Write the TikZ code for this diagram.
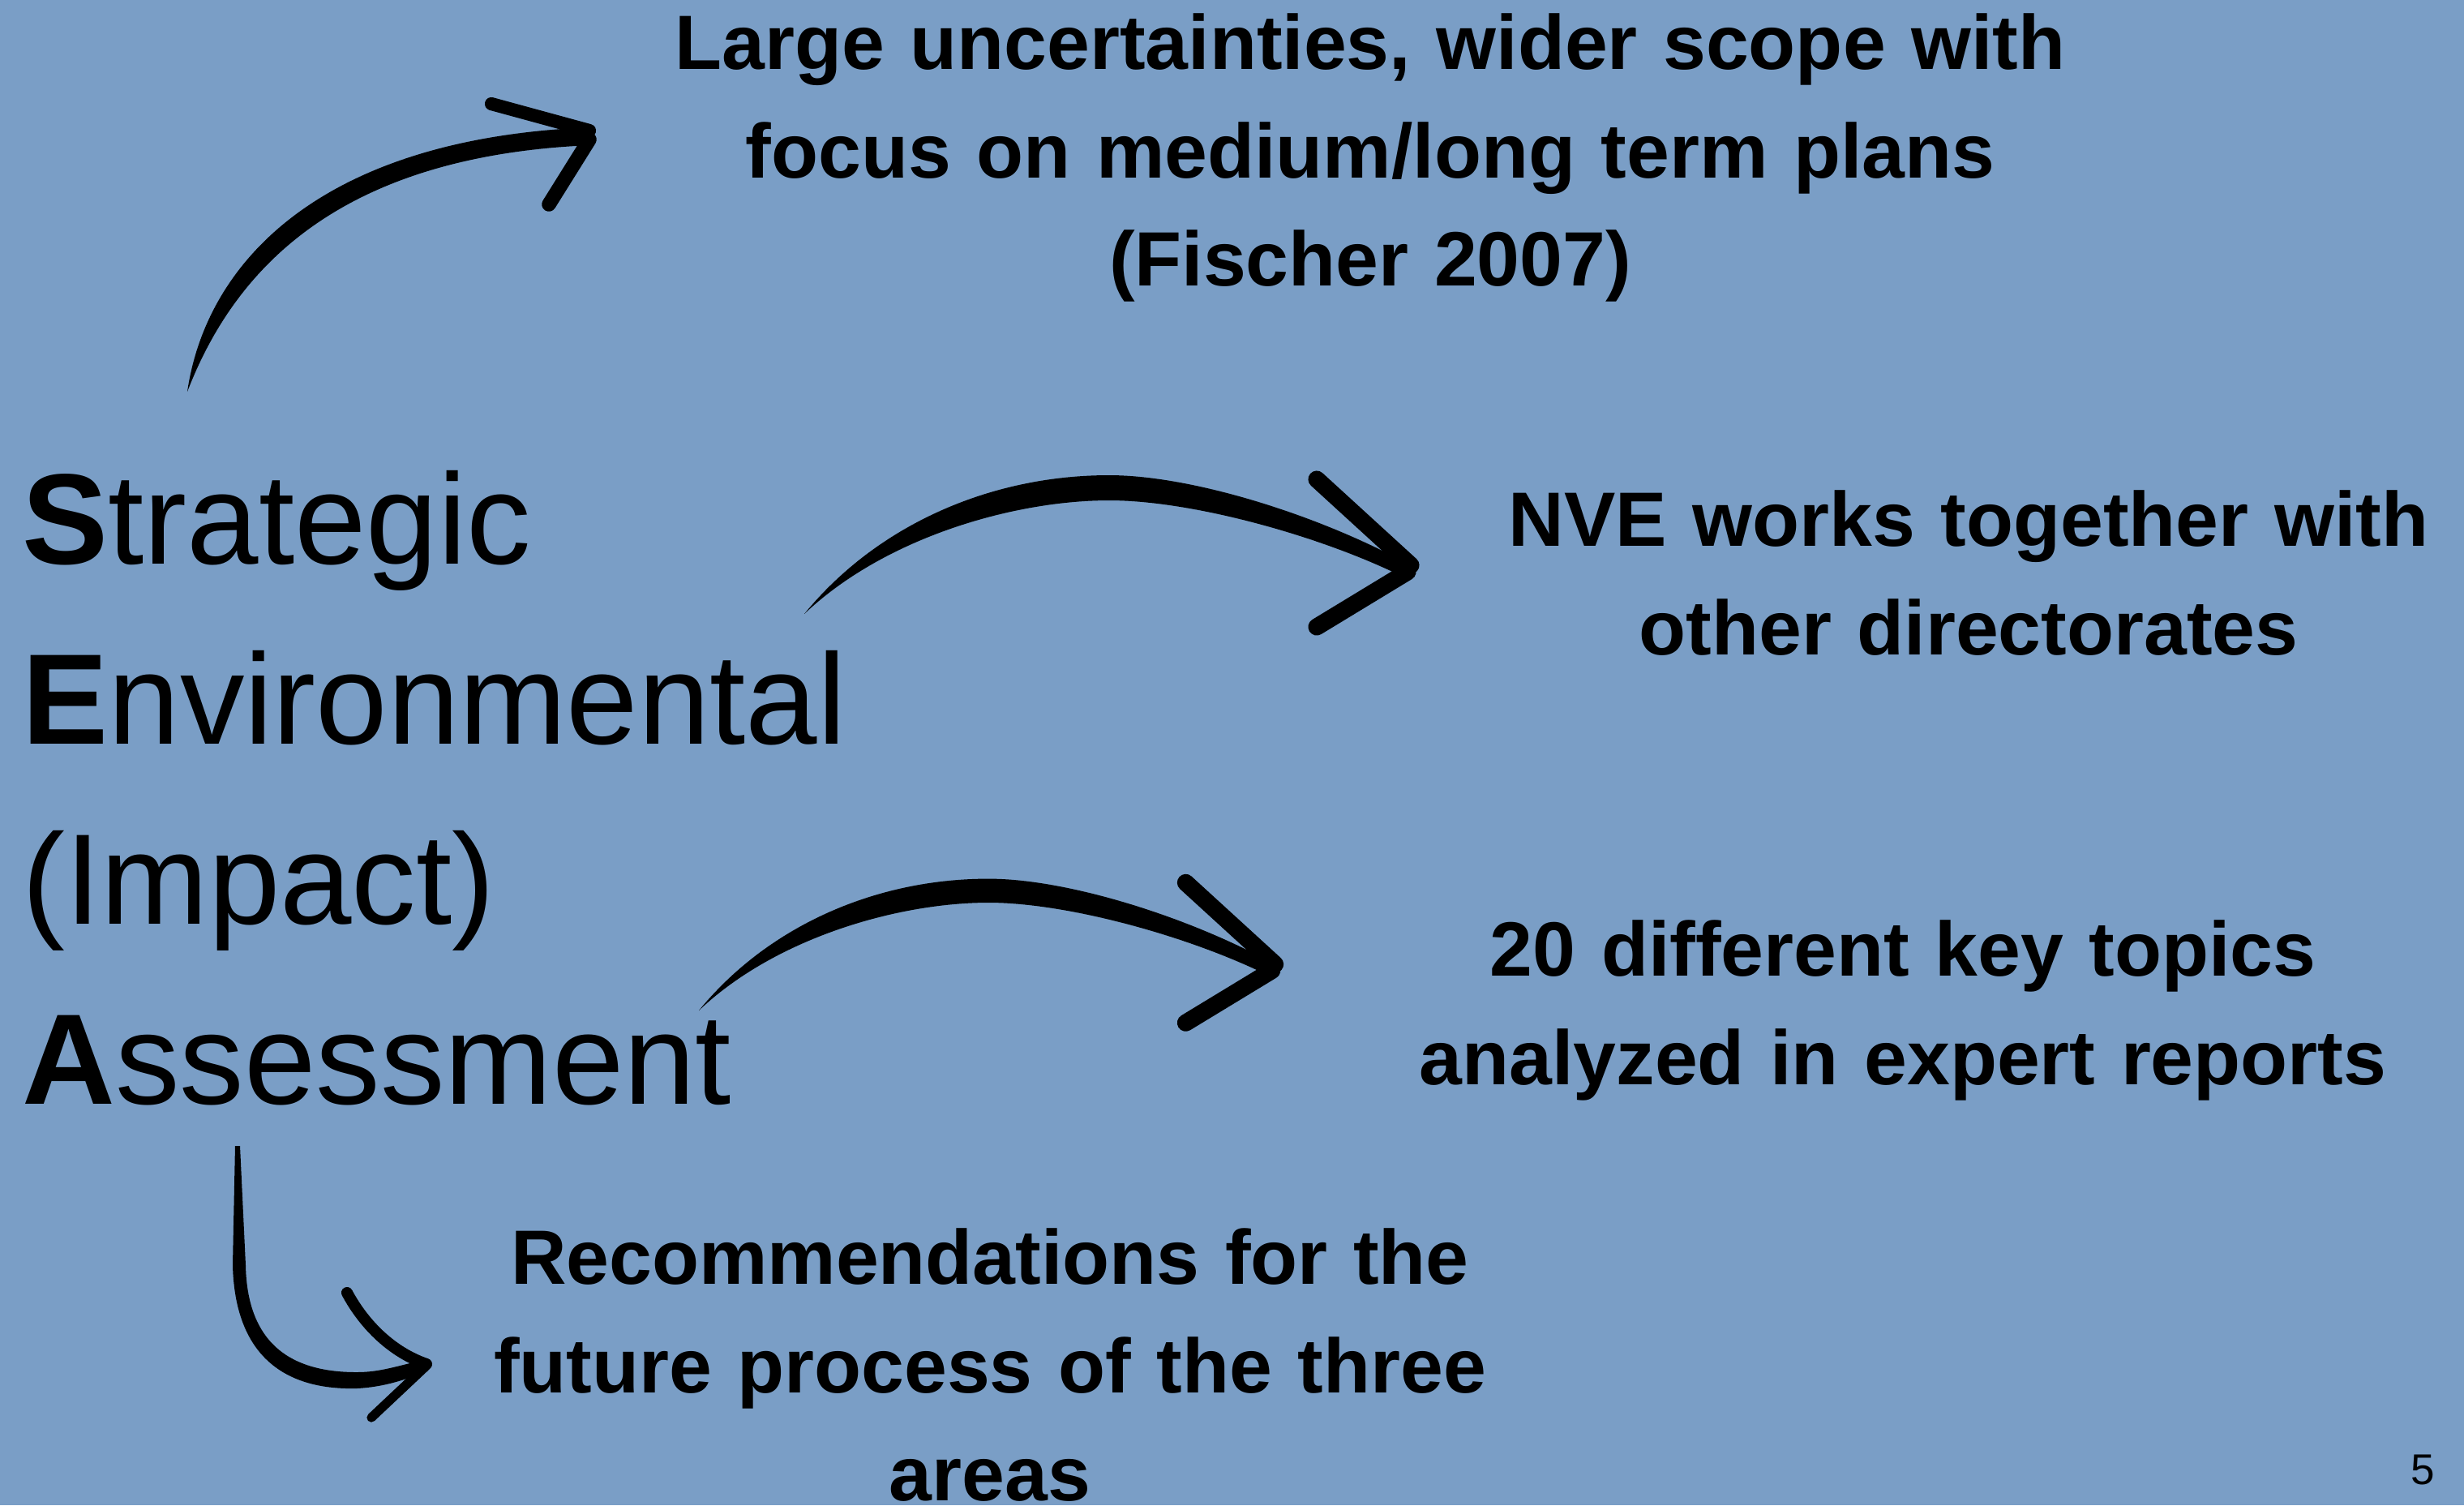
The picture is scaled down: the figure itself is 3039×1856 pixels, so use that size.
\documentclass[tikz,border=0pt]{standalone}
\usepackage{fontspec}
\setmainfont{Liberation Sans}
\definecolor{bgblue}{RGB}{122,158,198}
\tikzset{
  bodytext/.style={font=\bfseries\fontsize{27}{38.1}\selectfont, align=center, inner sep=0pt, anchor=base, text width=#1},
  bigtext/.style={font=\fontsize{45.2}{63.2}\selectfont, align=left, inner sep=0pt, anchor=base west, text width=12cm},
  ink/.style={fill=black, draw=none},
  barb/.style={draw=black, line cap=round, line join=round},
  bigarrow/.pic={
    \fill[ink] (0,0) .. controls (90,-110) and (230,-171) .. (376,-171)
      .. controls (480,-171) and (640,-120) .. (749,-59)
      -- (740,-45) .. controls (640,-95) and (480,-140) .. (376,-140)
      .. controls (260,-140) and (100,-95) .. (0,0) -- cycle;
    \draw[barb, line width=6pt] (632,-166) -- (748,-60);
    \draw[barb, line width=6pt] (744,-52) -- (632,16);
  }
}
\begin{document}
\begin{tikzpicture}[x=0.01cm, y=-0.01cm]
\path[use as bounding box, fill=bgblue] (0,0) rectangle (3039,1856);

% left title
\node[bigtext] (sea) at (27,695) {\textbf{S}trategic\\\textbf{E}nvironmental\\(Impact)\\\textbf{A}ssessment};

% statements
\node[bodytext=19cm] (scope) at (1690,85) {Large uncertainties, wider scope with\\focus on medium/long term plans\\(Fischer 2007)};
\node[bodytext=12cm] (nve) at (2428,673) {NVE works together with\\other directorates};
\node[bodytext=12.5cm] (topics) at (2347,1203) {20 different key topics\\analyzed in expert reports};
\node[bodytext=13cm] (rec) at (1221,1583) {Recommendations for the\\future process of the three\\areas};

% page number
\node[font=\fontsize{15.1}{18}\selectfont, inner sep=0pt, anchor=base] (page) at (2988,1830) {5};

% arrow 1 (up to scope)
\fill[ink] (231,483) .. controls (255,320) and (400,170) .. (729,157)
  -- (729,179) .. controls (420,192) and (290,330) .. (231,483) -- cycle;
\draw[barb, line width=4.6pt] (606,128) -- (727,161);
\draw[barb, line width=5pt] (727,172) -- (677,252);

% arrows 2 and 3
\pic at (992,757) {bigarrow};
\pic[scale=0.95] at (862,1246) {bigarrow};

% arrow 4 (down to recommendations)
\fill[ink] (290,1413) -- (287,1560) .. controls (290,1680) and (360,1714) .. (440,1712)
  .. controls (480,1710) and (510,1697) .. (528,1690)
  -- (527,1676) .. controls (490,1684) and (470,1692) .. (440,1692)
  .. controls (372,1692) and (305,1668) .. (303,1560) -- (296,1413) -- cycle;
\draw[barb, line width=4pt] (428,1594) .. controls (450,1635) and (485,1668) .. (526,1682);
\draw[barb, line width=3.2pt] (526,1684) -- (458,1748);
\end{tikzpicture}
\end{document}
